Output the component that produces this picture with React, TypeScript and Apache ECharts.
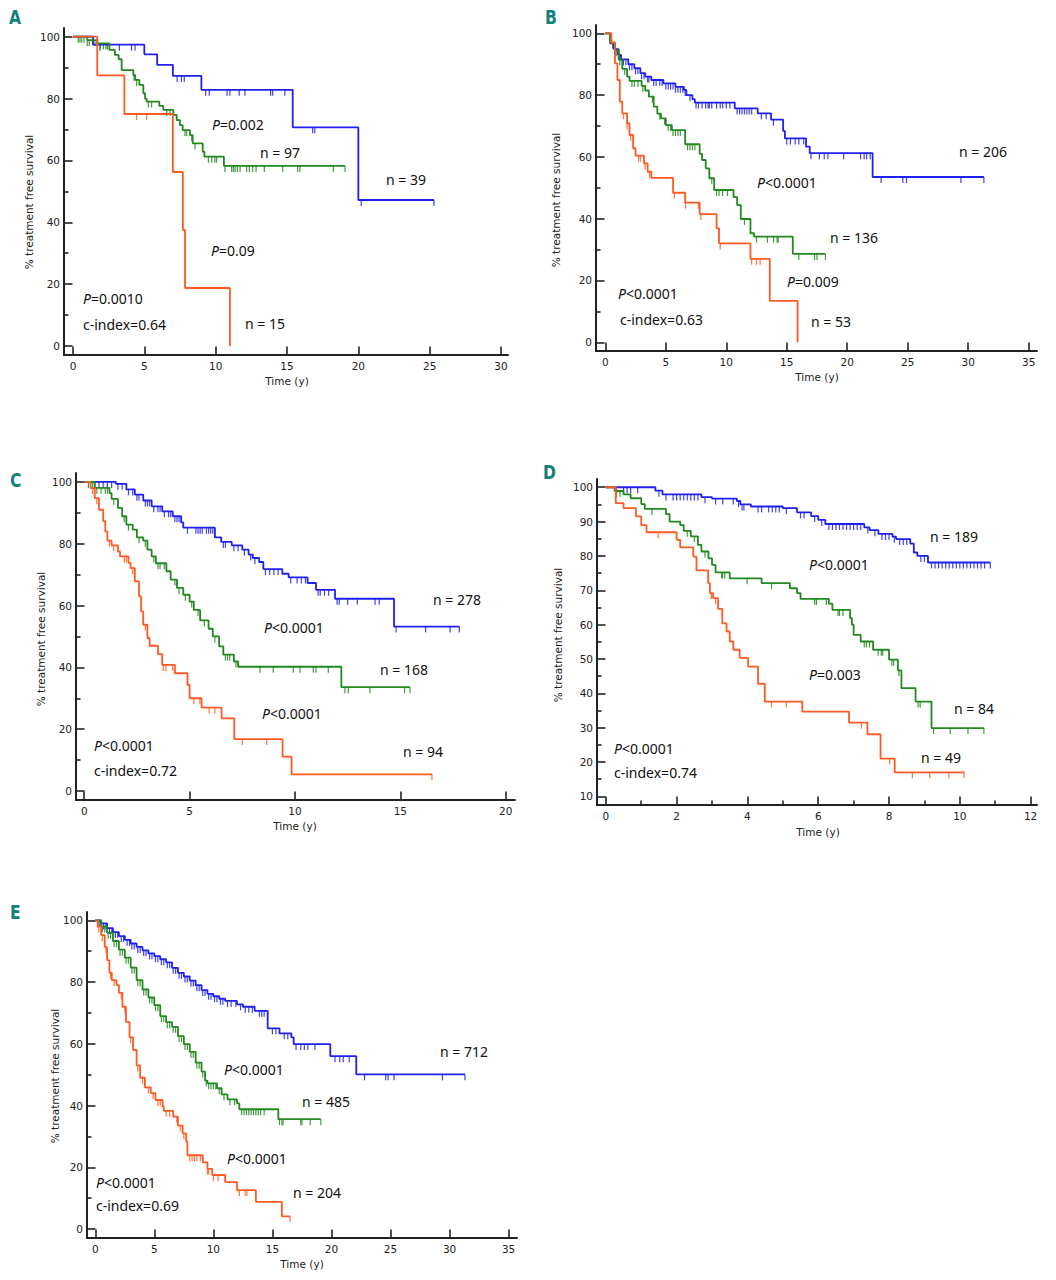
import * as echarts from 'echarts';
import { useEffect, useRef } from 'react';

type Step = [number, number];

// ---------- panel A ----------
const aXTicks = [0, 5, 10, 15, 20, 25, 30];
const aYTicks = [0, 20, 40, 60, 80, 100];
const aYMinor = [10, 30, 50, 70, 90];
const aBlueSteps: Step[] = [[0, 100], [1.4, 97.4], [5.0, 94.3], [5.9, 90.9], [7.0, 87.3], [9.0, 82.8], [15.4, 70.7], [20.0, 47.2]];
const aBlueCens = [1.9, 3.25, 4.1, 4.35, 7.3, 7.6, 7.8, 9.3, 9.55, 10.8, 11.0, 11.65, 12.05, 13.85, 14.0, 14.85, 16.8, 16.95, 20.2, 25.3];
const aGreenSteps: Step[] = [[0, 100], [1.0, 98.9], [1.7, 97.8], [2.55, 95.7], [2.94, 94.1], [3.2, 92.7], [3.41, 89.2], [4.23, 87.6], [4.35, 86.0], [4.65, 84.4], [4.93, 81.7], [5.05, 80.0], [5.16, 79.0], [6.05, 77.6], [6.33, 76.3], [7.03, 74.7], [7.27, 73.0], [7.5, 71.4], [7.69, 69.8], [8.2, 68.2], [8.39, 65.5], [9.09, 62.8], [9.21, 61.2], [10.58, 58.2]];
const aGreenCens = [0.37, 0.49, 0.61, 0.77, 1.0, 1.14, 1.54, 1.89, 2.13, 2.31, 2.41, 4.28, 4.46, 5.28, 5.51, 6.57, 6.8, 7.85, 7.97, 8.32, 8.55, 9.49, 9.72, 9.95, 10.07, 10.65, 11.12, 11.24, 11.36, 11.52, 11.71, 12.17, 12.36, 12.59, 12.83, 13.41, 14.7, 15.75, 15.91, 18.25, 19.07];
const aOrangeSteps: Step[] = [[0, 100], [1.7, 87.5], [3.6, 75.0], [7.0, 56.25], [7.7, 37.5], [7.85, 18.75], [11.0, 0]];
const aOrangeCens = [4.46, 5.16];

// ---------- panel B ----------
const bXTicks = [0, 5, 10, 15, 20, 25, 30, 35];
const bYTicks = [0, 20, 40, 60, 80, 100];
const bYMinor = [10, 30, 50, 70, 90];
const bBlueSteps: Step[] = [[0, 100], [0.4, 96.8], [0.7, 94.9], [1.1, 93.0], [1.3, 91.6], [1.9, 90.0], [2.4, 88.7], [2.9, 87.1], [3.3, 86.0], [3.8, 84.9], [4.8, 83.8], [5.8, 82.7], [6.5, 81.7], [6.7, 80.0], [7.2, 78.7], [7.4, 77.6], [10.7, 75.7], [12.6, 74.1], [13.7, 72.1], [14.7, 68.4], [14.85, 66.0], [16.6, 63.3], [16.9, 61.2], [22.1, 53.5]];
const bBlueCens = [0.8, 1.0, 1.2, 1.5, 1.7, 2.0, 2.2, 2.5, 2.7, 3.0, 3.2, 3.5, 3.6, 4.0, 4.2, 4.5, 4.7, 5.0, 5.2, 5.4, 5.6, 5.8, 6.0, 6.2, 6.4, 6.6, 7.0, 7.5, 7.7, 8.0, 8.3, 8.5, 8.6, 8.8, 9.2, 9.5, 9.7, 10.0, 10.3, 10.9, 11.1, 11.3, 11.5, 11.7, 11.9, 12.1, 12.9, 13.3, 13.9, 15.0, 15.3, 15.7, 16.0, 16.4, 17.0, 17.7, 18.1, 18.4, 19.7, 21.1, 21.4, 21.6, 21.9, 22.8, 24.6, 24.9, 29.4, 31.3];
const bGreenSteps: Step[] = [[0, 100], [0.4, 97.0], [0.8, 94.5], [1.1, 91.5], [1.4, 88.5], [1.8, 86.0], [2.0, 84.6], [3.0, 83.0], [3.3, 81.5], [3.6, 79.5], [4.0, 76.3], [4.3, 74.0], [4.6, 72.5], [5.0, 70.3], [5.5, 68.7], [6.6, 64.1], [7.8, 61.0], [8.0, 59.0], [8.3, 56.3], [8.6, 53.1], [9.0, 49.3], [10.6, 47.0], [10.9, 44.4], [11.2, 39.9], [12.0, 35.3], [12.3, 34.2], [15.5, 28.6]];
const bGreenCens = [0.6, 0.9, 1.2, 1.6, 2.2, 2.4, 2.7, 3.1, 3.9, 4.5, 4.9, 5.2, 5.4, 5.6, 5.8, 6.0, 6.2, 6.8, 7.0, 7.2, 7.4, 8.8, 9.2, 9.4, 9.7, 10.1, 11.5, 12.5, 13.4, 13.9, 14.2, 14.3, 16.0, 17.3, 17.5, 18.2];
const bOrangeSteps: Step[] = [[0, 100], [0.5, 97.0], [0.8, 90.3], [1.0, 84.9], [1.2, 77.9], [1.4, 74.1], [1.8, 70.9], [2.0, 67.1], [2.3, 62.8], [2.5, 60.4], [3.2, 57.9], [3.5, 55.2], [3.8, 53.2], [5.6, 48.4], [6.6, 45.2], [7.8, 41.5], [9.2, 36.9], [9.4, 32.0], [12.0, 27.0], [13.6, 13.4], [15.9, 0]];
const bOrangeCens = [1.5, 1.8, 2.1, 2.75, 2.9, 3.3, 3.66, 5.7, 6.63, 7.7, 7.9, 9.5, 12.1, 12.5, 12.8];

// ---------- panel C ----------
const cXTicks = [0, 5, 10, 15, 20];
const cYTicks = [0, 20, 40, 60, 80, 100];
const cYMinor = [10, 30, 50, 70, 90];
const cBlueSteps: Step[] = [[0, 100], [1.5, 99.4], [2.0, 97.6], [2.4, 95.9], [2.8, 94.0], [3.2, 92.1], [3.7, 90.5], [4.2, 88.9], [4.6, 86.9], [4.7, 85.2], [6.2, 82.1], [6.5, 80.6], [7.0, 79.5], [7.5, 78.1], [7.8, 76.5], [8.0, 75.4], [8.3, 74.1], [8.5, 71.8], [9.4, 70.3], [9.7, 69.1], [10.6, 67.3], [11.0, 65.1], [11.9, 62.2], [14.7, 53.2]];
const cBlueCens = [0.3, 0.5, 0.7, 0.9, 1.1, 1.3, 1.6, 1.8, 2.1, 2.3, 2.5, 2.6, 2.9, 3.0, 3.1, 3.3, 3.5, 3.6, 3.8, 4.0, 4.1, 4.3, 4.4, 4.5, 4.9, 5.3, 5.4, 5.5, 5.6, 5.8, 5.9, 6.0, 6.1, 6.6, 6.7, 7.1, 7.3, 7.6, 7.9, 8.1, 8.6, 8.8, 9.0, 9.2, 9.8, 10.1, 10.3, 10.5, 11.1, 11.2, 11.4, 11.6, 12.0, 12.1, 12.5, 12.96, 13.8, 14.0, 14.8, 16.2, 17.36, 17.8];
const cGreenSteps: Step[] = [[0, 100], [0.5, 98.1], [1.2, 96.4], [1.3, 94.5], [1.6, 91.6], [1.8, 88.9], [2.0, 86.2], [2.3, 84.6], [2.5, 82.1], [2.8, 81.0], [3.0, 78.1], [3.2, 75.9], [3.4, 73.7], [3.9, 71.1], [4.1, 68.4], [4.4, 65.7], [4.7, 63.5], [5.0, 61.3], [5.2, 58.6], [5.5, 55.2], [5.9, 52.5], [6.1, 50.0], [6.4, 46.8], [6.6, 44.1], [7.1, 41.9], [7.3, 40.2], [12.2, 33.6]];
const cGreenCens = [0.2, 0.4, 0.6, 0.8, 1.0, 1.1, 1.4, 1.9, 2.1, 2.6, 2.9, 3.3, 3.5, 3.6, 3.8, 4.3, 4.5, 4.8, 5.1, 5.4, 5.7, 6.2, 6.7, 6.8, 6.9, 7.2, 8.34, 8.97, 9.92, 10.24, 10.87, 11.0, 11.58, 12.37, 12.53, 13.56, 15.2, 15.46];
const cOrangeSteps: Step[] = [[0, 100], [0.3, 98.0], [0.5, 94.8], [0.7, 91.0], [0.9, 87.3], [1.0, 84.0], [1.1, 81.0], [1.3, 79.5], [1.6, 77.5], [1.7, 75.9], [2.1, 73.8], [2.2, 72.1], [2.4, 67.8], [2.6, 63.0], [2.7, 58.1], [2.8, 53.8], [3.0, 49.5], [3.1, 47.0], [3.5, 44.3], [3.7, 40.8], [4.3, 38.1], [4.9, 34.3], [5.0, 30.0], [5.57, 27.0], [6.52, 23.5], [7.12, 16.8], [9.41, 11.1], [9.84, 5.4]];
const cOrangeCens = [0.4, 0.6, 1.2, 1.4, 1.9, 2.0, 2.3, 2.9, 3.75, 3.88, 4.19, 5.2, 5.49, 5.93, 6.2, 7.5, 8.66, 16.5];

// ---------- panel D ----------
const dXTicks = [0, 2, 4, 6, 8, 10, 12];
const dXMinor = [1, 3, 5, 7, 9, 11];
const dYTicks = [10, 20, 30, 40, 50, 60, 70, 80, 90, 100];
const dYMinor = [15, 25, 35, 45, 55, 65, 75, 85, 95];
const dBlueSteps: Step[] = [[0, 100], [1.4, 99.0], [1.6, 97.9], [2.7, 97.1], [3.0, 96.7], [3.7, 96.0], [3.8, 95.0], [4.1, 94.4], [5.0, 93.9], [5.4, 92.7], [5.8, 91.6], [6.0, 90.5], [6.2, 89.3], [7.3, 88.3], [7.45, 87.5], [7.7, 86.4], [8.1, 85.6], [8.2, 84.9], [8.6, 83.6], [8.7, 81.0], [8.8, 80.0], [9.1, 78.1]];
const dBlueCens = [0.3, 0.5, 0.6, 0.7, 0.9, 1.5, 1.7, 1.9, 2.0, 2.1, 2.2, 2.3, 2.4, 2.5, 2.6, 2.8, 3.1, 3.3, 3.6, 3.75, 3.85, 3.9, 4.3, 4.4, 4.6, 4.7, 4.8, 4.9, 5.1, 5.5, 5.6, 5.9, 6.1, 6.3, 6.4, 6.5, 6.6, 6.7, 6.8, 6.9, 7.0, 7.1, 7.2, 7.4, 7.6, 7.8, 7.9, 8.0, 8.15, 8.3, 8.4, 8.5, 8.9, 9.0, 9.2, 9.3, 9.4, 9.5, 9.6, 9.7, 9.8, 9.9, 10.0, 10.1, 10.2, 10.3, 10.4, 10.5, 10.6, 10.7, 10.86];
const dGreenSteps: Step[] = [[0, 100], [0.25, 98.9], [0.5, 97.9], [0.7, 96.8], [1.0, 95.1], [1.1, 93.7], [1.7, 92.2], [1.8, 90.0], [2.1, 89.0], [2.2, 87.3], [2.4, 85.7], [2.6, 83.2], [2.7, 81.3], [2.9, 79.3], [3.0, 77.4], [3.1, 75.2], [3.5, 73.5], [4.4, 72.1], [5.2, 70.6], [5.4, 69.2], [5.5, 67.5], [6.3, 66.1], [6.4, 64.3], [6.9, 61.9], [6.95, 60.0], [7.0, 57.0], [7.2, 55.1], [7.55, 52.7], [8.0, 49.8], [8.25, 46.7], [8.35, 41.5], [8.75, 37.6], [9.2, 29.9]];
const dGreenCens = [0.3, 0.4, 1.3, 2.3, 2.5, 2.8, 3.27, 3.3, 3.36, 3.99, 4.68, 5.9, 5.95, 6.23, 6.56, 6.6, 6.7, 7.3, 7.36, 7.45, 7.69, 7.78, 7.82, 8.08, 8.13, 8.28, 8.82, 8.88, 9.26, 9.73, 10.23, 10.68];
const dOrangeSteps: Step[] = [[0, 100], [0.28, 95.4], [0.5, 93.9], [0.85, 91.5], [1.0, 89.0], [1.15, 86.9], [2.0, 84.7], [2.1, 82.5], [2.47, 79.8], [2.56, 75.8], [2.89, 72.1], [2.94, 69.2], [3.03, 67.7], [3.17, 64.6], [3.29, 60.4], [3.41, 58.0], [3.5, 55.1], [3.6, 52.7], [3.78, 50.3], [4.02, 47.8], [4.3, 42.8], [4.49, 37.6], [5.55, 34.7], [6.87, 31.5], [7.39, 28.1], [7.76, 21.0], [8.16, 17.0]];
const dOrangeCens = [1.48, 2.98, 3.1, 4.68, 5.1, 7.22, 8.02, 8.66, 9.15, 9.69, 10.12];

// ---------- panel E ----------
const eXTicks = [0, 5, 10, 15, 20, 25, 30, 35];
const eYTicks = [0, 20, 40, 60, 80, 100];
const eYMinor = [10, 30, 50, 70, 90];
const eBlueSteps: Step[] = [[0, 100], [0.5, 99.0], [1.0, 97.5], [1.5, 96.2], [2.0, 94.9], [2.5, 93.7], [3.0, 92.5], [3.5, 91.4], [4.0, 90.3], [4.5, 89.3], [5.0, 88.4], [5.5, 87.4], [6.0, 86.4], [6.5, 84.6], [7.0, 83.0], [7.5, 81.8], [8.0, 80.5], [8.5, 79.0], [9.0, 77.4], [9.5, 76.2], [10.0, 75.4], [10.5, 74.6], [11.0, 73.9], [12.0, 72.8], [12.5, 72.0], [13.5, 70.7], [14.6, 65.0], [15.6, 63.4], [16.6, 62.1], [16.8, 59.9], [19.9, 56.0], [22.1, 50.1]];
const eBlueCens = [0.4, 0.7, 0.9, 1.2, 1.4, 1.7, 1.9, 2.2, 2.4, 2.7, 2.9, 3.1, 3.3, 3.6, 3.8, 4.1, 4.3, 4.6, 4.8, 5.1, 5.3, 5.6, 5.8, 6.1, 6.3, 6.6, 6.8, 7.1, 7.3, 7.6, 7.8, 8.1, 8.3, 8.6, 8.8, 9.1, 9.3, 9.6, 9.8, 10.1, 10.3, 10.6, 10.8, 11.2, 11.5, 11.9, 12.3, 12.7, 13.0, 13.3, 13.9, 14.1, 14.3, 15.0, 15.3, 16.0, 16.3, 17.0, 17.4, 17.7, 18.0, 18.6, 20.3, 20.7, 21.0, 21.5, 22.8, 24.6, 24.8, 25.3, 29.4, 31.3];
const eGreenSteps: Step[] = [[0, 100], [0.5, 98.0], [1.0, 96.0], [1.5, 93.3], [2.0, 90.5], [2.5, 87.9], [3.0, 84.7], [3.5, 80.6], [4.0, 77.6], [4.5, 75.0], [5.0, 72.5], [5.5, 69.0], [6.0, 67.0], [6.5, 65.5], [7.0, 62.5], [7.5, 59.9], [8.0, 57.4], [8.5, 53.9], [9.0, 51.0], [9.3, 48.1], [9.5, 47.2], [10.3, 45.6], [10.7, 43.6], [11.2, 42.0], [12.0, 40.7], [12.2, 38.8], [15.5, 35.6]];
const eGreenCens = [0.3, 0.6, 0.8, 1.1, 1.3, 1.6, 1.8, 2.1, 2.3, 2.6, 2.8, 3.1, 3.3, 3.6, 3.8, 4.1, 4.3, 4.6, 4.8, 5.1, 5.3, 5.6, 5.8, 6.1, 6.3, 6.6, 6.8, 7.1, 7.3, 7.6, 7.8, 8.1, 8.3, 8.6, 8.8, 9.1, 9.4, 9.6, 9.8, 10.0, 10.2, 10.5, 10.9, 11.4, 11.8, 12.4, 12.6, 12.8, 13.0, 13.2, 13.4, 13.6, 13.8, 14.0, 14.3, 15.6, 15.8, 15.9, 17.4, 17.5, 18.2, 19.1];
const eOrangeSteps: Step[] = [[0, 100], [0.2, 98.0], [0.5, 95.2], [0.8, 91.4], [1.0, 87.1], [1.2, 83.0], [1.4, 80.6], [1.8, 79.0], [2.0, 76.5], [2.3, 72.0], [2.6, 67.1], [2.9, 62.1], [3.2, 58.0], [3.5, 53.0], [3.8, 49.0], [4.2, 45.9], [4.7, 44.0], [5.1, 41.8], [5.7, 39.7], [5.8, 38.3], [6.6, 36.4], [7.0, 33.5], [7.4, 31.0], [7.7, 28.3], [7.8, 23.9], [9.1, 21.6], [9.5, 19.5], [9.9, 17.5], [11.0, 15.2], [12.0, 12.6], [13.6, 8.8], [15.8, 4.1]];
const eOrangeCens = [0.3, 0.6, 0.9, 1.3, 1.6, 2.2, 2.5, 3.0, 3.6, 4.0, 4.5, 4.9, 5.3, 5.5, 6.0, 6.3, 6.9, 7.2, 7.5, 8.0, 8.2, 8.4, 8.6, 8.9, 9.5, 9.6, 10.0, 10.4, 12.2, 12.7, 12.85, 16.5];

const BLUE = '#2020ee';
const GREEN = '#22891f';
const ORANGE = '#ff5a22';
const AXIS = '#222';
const TEAL = '#12807c';
const TICK_FONT = '"DejaVu Sans", Verdana, sans-serif';
const NOTE_FONT = '"Noto Sans", "Open Sans", sans-serif';

type Curve = { steps: Step[]; cens: number[]; color: string };
type Note = { text: string; x: number; y: number };
type Panel = {
  letter: string;
  letterPos: [number, number];
  grid: { left: number; top: number; width: number; height: number };
  x: [number, number];
  y: [number, number];
  xTicks: number[];
  xMinor: number[];
  yTicks: number[];
  yMinor: number[];
  xName: [number, number];
  yName: [number, number];
  curves: Curve[];
  notes: Note[];
};

const panels: Panel[] = [
  {
    letter: 'A', letterPos: [9, 17],
    grid: { left: 64, top: 28, width: 444, height: 327 },
    x: [-0.63, 30.49], y: [-2.91, 102.8],
    xTicks: aXTicks, xMinor: [], yTicks: aYTicks, yMinor: aYMinor,
    xName: [287, 381], yName: [29, 202],
    curves: [
      { steps: aBlueSteps, cens: aBlueCens, color: BLUE },
      { steps: aGreenSteps, cens: aGreenCens, color: GREEN },
      { steps: aOrangeSteps, cens: aOrangeCens, color: ORANGE },
    ],
    notes: [
      { text: '{i|P}=0.002', x: 212, y: 124 },
      { text: 'n = 97', x: 260, y: 152 },
      { text: 'n = 39', x: 386, y: 179 },
      { text: '{i|P}=0.09', x: 211, y: 250 },
      { text: '{i|P}=0.0010', x: 83, y: 298 },
      { text: 'c-index=0.64', x: 83, y: 324 },
      { text: 'n = 15', x: 245, y: 323 },
    ],
  },
  {
    letter: 'B', letterPos: [545, 17],
    grid: { left: 596, top: 25, width: 441, height: 326 },
    x: [-0.77, 35.69], y: [-2.82, 102.7],
    xTicks: bXTicks, xMinor: [], yTicks: bYTicks, yMinor: bYMinor,
    xName: [817, 377], yName: [556, 200],
    curves: [
      { steps: bBlueSteps, cens: bBlueCens, color: BLUE },
      { steps: bGreenSteps, cens: bGreenCens, color: GREEN },
      { steps: bOrangeSteps, cens: bOrangeCens, color: ORANGE },
    ],
    notes: [
      { text: 'n = 206', x: 959, y: 151 },
      { text: '{i|P}<0.0001', x: 757, y: 182 },
      { text: 'n = 136', x: 830, y: 237 },
      { text: '{i|P}=0.009', x: 787, y: 281 },
      { text: '{i|P}<0.0001', x: 618, y: 293 },
      { text: 'c-index=0.63', x: 620, y: 319 },
      { text: 'n = 53', x: 811, y: 321 },
    ],
  },
  {
    letter: 'C', letterPos: [10, 480],
    grid: { left: 76, top: 473, width: 439, height: 327 },
    x: [-0.39, 20.44], y: [-2.92, 102.9],
    xTicks: cXTicks, xMinor: [], yTicks: cYTicks, yMinor: cYMinor,
    xName: [295, 826], yName: [41, 639],
    curves: [
      { steps: cBlueSteps, cens: cBlueCens, color: BLUE },
      { steps: cGreenSteps, cens: cGreenCens, color: GREEN },
      { steps: cOrangeSteps, cens: cOrangeCens, color: ORANGE },
    ],
    notes: [
      { text: 'n = 278', x: 433, y: 599 },
      { text: '{i|P}<0.0001', x: 264, y: 627 },
      { text: 'n = 168', x: 380, y: 669 },
      { text: '{i|P}<0.0001', x: 262, y: 713 },
      { text: 'n = 94', x: 403, y: 751 },
      { text: '{i|P}<0.0001', x: 94, y: 745 },
      { text: 'c-index=0.72', x: 94, y: 770 },
    ],
  },
  {
    letter: 'D', letterPos: [543, 472],
    grid: { left: 597, top: 479, width: 440, height: 326 },
    x: [-0.25, 12.18], y: [7.5, 102.4],
    xTicks: dXTicks, xMinor: dXMinor, yTicks: dYTicks, yMinor: dYMinor,
    xName: [818, 832], yName: [558, 635],
    curves: [
      { steps: dBlueSteps, cens: dBlueCens, color: BLUE },
      { steps: dGreenSteps, cens: dGreenCens, color: GREEN },
      { steps: dOrangeSteps, cens: dOrangeCens, color: ORANGE },
    ],
    notes: [
      { text: 'n = 189', x: 930, y: 536 },
      { text: '{i|P}<0.0001', x: 809, y: 564 },
      { text: '{i|P}=0.003', x: 809, y: 674 },
      { text: 'n = 84', x: 954, y: 708 },
      { text: 'n = 49', x: 921, y: 757 },
      { text: '{i|P}<0.0001', x: 614, y: 748 },
      { text: 'c-index=0.74', x: 614, y: 772 },
    ],
  },
  {
    letter: 'E', letterPos: [10, 912],
    grid: { left: 87, top: 912, width: 430, height: 326 },
    x: [-0.7, 35.71], y: [-2.91, 102.7],
    xTicks: eXTicks, xMinor: [], yTicks: eYTicks, yMinor: eYMinor,
    xName: [302, 1264], yName: [55, 1076],
    curves: [
      { steps: eBlueSteps, cens: eBlueCens, color: BLUE },
      { steps: eGreenSteps, cens: eGreenCens, color: GREEN },
      { steps: eOrangeSteps, cens: eOrangeCens, color: ORANGE },
    ],
    notes: [
      { text: 'n = 712', x: 440, y: 1051 },
      { text: '{i|P}<0.0001', x: 224, y: 1069 },
      { text: 'n = 485', x: 302, y: 1101 },
      { text: '{i|P}<0.0001', x: 227, y: 1158 },
      { text: 'n = 204', x: 293, y: 1192 },
      { text: '{i|P}<0.0001', x: 96, y: 1182 },
      { text: 'c-index=0.69', x: 96, y: 1205 },
    ],
  },
];

function survAt(steps: Step[], t: number) {
  let s = steps[0][1];
  for (const [x, y] of steps) {
    if (x <= t) s = y;
    else break;
  }
  return s;
}

function lineData(c: Curve) {
  const pts: number[][] = c.steps.map((p) => [p[0], p[1]]);
  const last = c.steps[c.steps.length - 1];
  const end = Math.max(last[0], ...c.cens);
  if (end > last[0]) pts.push([end, last[1]]);
  return pts;
}

function buildOption() {
  const grid: any[] = [];
  const xAxis: any[] = [];
  const yAxis: any[] = [];
  const series: any[] = [];
  const elements: any[] = [];
  const axisLine = { show: true, onZero: false, lineStyle: { color: AXIS, width: 2 } };
  const tickStyle = { color: AXIS, width: 1.6 };
  const label = { fontFamily: TICK_FONT, fontSize: 10.5, color: '#222' };

  panels.forEach((p, i) => {
    grid.push({ ...p.grid, containLabel: false });
    // major axis (with line + labels) then a minor-tick-only axis
    xAxis.push({
      type: 'value', gridIndex: i, min: p.x[0], max: p.x[1], position: 'bottom',
      axisLine,
      axisTick: { show: true, inside: true, length: 8.5, customValues: p.xTicks, lineStyle: tickStyle },
      axisLabel: { show: true, customValues: p.xTicks, margin: 5, ...label },
      splitLine: { show: false },
    });
    xAxis.push({
      type: 'value', gridIndex: i, min: p.x[0], max: p.x[1], position: 'bottom',
      axisLine: { show: false, onZero: false },
      axisTick: { show: p.xMinor.length > 0, inside: true, length: 4.5, customValues: p.xMinor.length ? p.xMinor : [p.x[0]], lineStyle: tickStyle },
      axisLabel: { show: false },
      splitLine: { show: false },
    });
    yAxis.push({
      type: 'value', gridIndex: i, min: p.y[0], max: p.y[1], position: 'left',
      axisLine,
      axisTick: { show: true, inside: true, length: 8.5, customValues: p.yTicks, lineStyle: tickStyle },
      axisLabel: { show: true, customValues: p.yTicks, margin: 4, ...label },
      splitLine: { show: false },
    });
    yAxis.push({
      type: 'value', gridIndex: i, min: p.y[0], max: p.y[1], position: 'left',
      axisLine: { show: false, onZero: false },
      axisTick: { show: true, inside: true, length: 4.5, customValues: p.yMinor, lineStyle: tickStyle },
      axisLabel: { show: false },
      splitLine: { show: false },
    });

    p.curves.forEach((c) => {
      series.push({
        type: 'line', xAxisIndex: 2 * i, yAxisIndex: 2 * i, data: lineData(c), step: 'end',
        showSymbol: false, symbol: 'none', silent: true,
        lineStyle: { color: c.color, width: 1.8 },
      });
      series.push({
        type: 'scatter', xAxisIndex: 2 * i, yAxisIndex: 2 * i, silent: true,
        data: c.cens.map((t) => [t, survAt(c.steps, t)]),
        symbol: 'rect', symbolSize: [1.2, 6], symbolOffset: [0, 3],
        itemStyle: { color: c.color, opacity: 0.85 },
      });
    });

    elements.push({
      type: 'text', x: p.letterPos[0], y: p.letterPos[1], scaleX: 0.78, silent: true,
      style: {
        text: p.letter, fill: TEAL, fontFamily: '"DejaVu Sans", sans-serif',
        fontWeight: 'bold', fontSize: 20, verticalAlign: 'middle', align: 'left',
      },
    });
    elements.push({
      type: 'text', x: p.xName[0], y: p.xName[1], silent: true,
      style: { text: 'Time (y)', fill: '#222', fontFamily: TICK_FONT, fontSize: 10.5, align: 'center', verticalAlign: 'middle' },
    });
    elements.push({
      type: 'text', x: p.yName[0], y: p.yName[1], rotation: Math.PI / 2, silent: true,
      style: { text: '% treatment free survival', fill: '#222', fontFamily: TICK_FONT, fontSize: 10.5, align: 'center', verticalAlign: 'middle' },
    });
    p.notes.forEach((n) => {
      elements.push({
        type: 'text', x: n.x, y: n.y, silent: true,
        style: {
          text: n.text, fill: '#111', fontFamily: NOTE_FONT, fontSize: 14,
          align: 'left', verticalAlign: 'middle',
          rich: { i: { fontStyle: 'italic', fontFamily: NOTE_FONT, fontSize: 14, fill: '#111' } },
        },
      });
    });
  });

  return {
    animation: false,
    backgroundColor: '#fff',
    grid,
    xAxis,
    yAxis,
    series,
    graphic: { elements },
  };
}

export default function App() {
  const ref = useRef<HTMLDivElement | null>(null);

  useEffect(() => {
    if (!ref.current) return;
    const chart = echarts.init(ref.current, undefined, { renderer: 'svg' });
    chart.setOption(buildOption() as any);
    return () => chart.dispose();
  }, []);

  return <div ref={ref} style={{ position: 'absolute', left: 0, top: 0, width: 1056, height: 1280, background: '#fff' }} />;
}
